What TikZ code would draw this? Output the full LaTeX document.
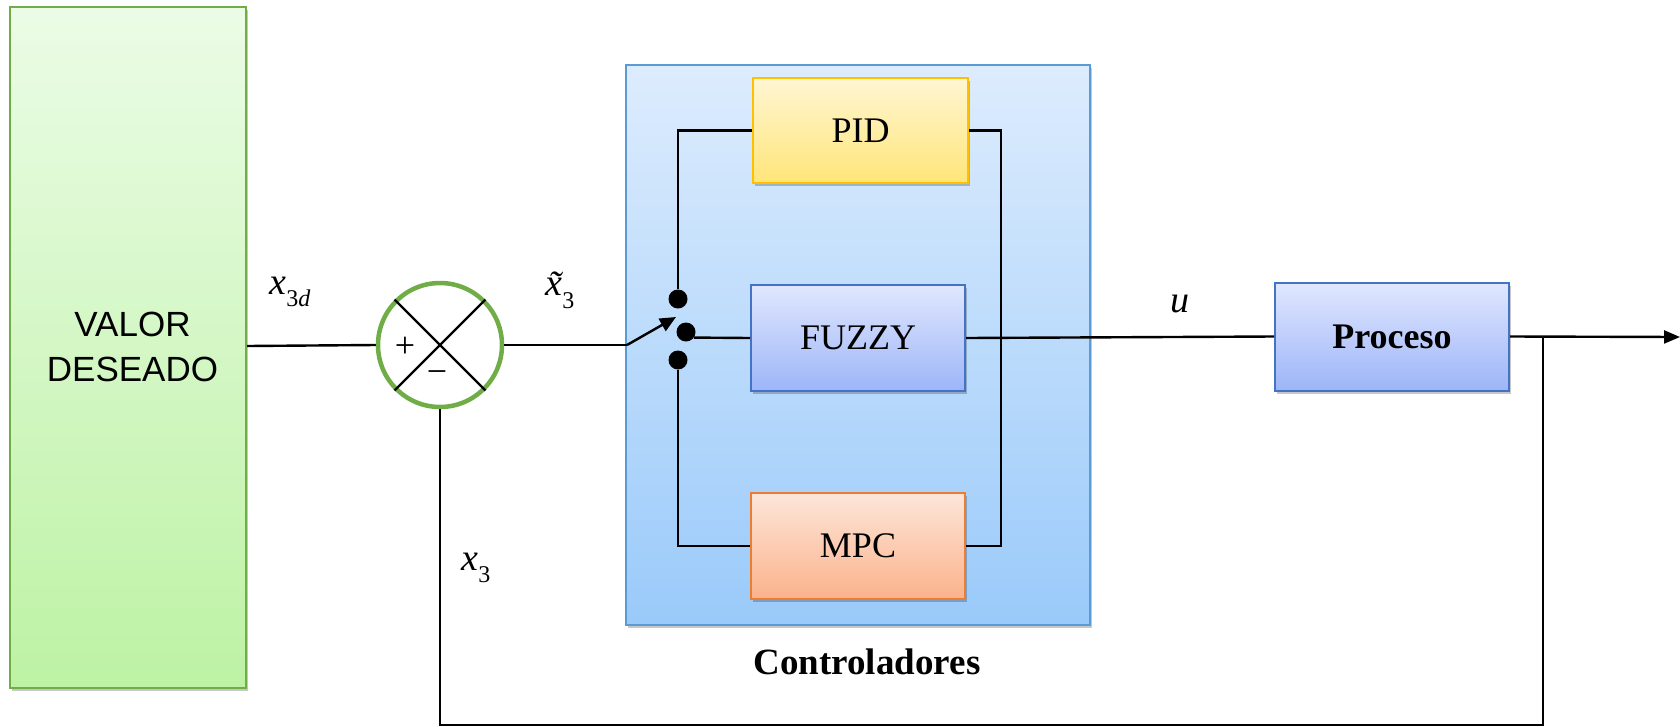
\documentclass[tikz,border=0pt]{standalone}
\usepackage{fontspec}
\setmainfont{Liberation Serif}
\newfontfamily\arialfont{Liberation Sans}
\usetikzlibrary{shadows,arrows.meta}

\definecolor{setgreen}{HTML}{70AD47}
\definecolor{setgreenTop}{HTML}{EBFCE6}
\definecolor{setgreenBot}{HTML}{BDF2A4}
\definecolor{ctrlblue}{HTML}{5B9BD5}
\definecolor{ctrlTop}{HTML}{DDECFD}
\definecolor{ctrlBot}{HTML}{9ACAFA}
\definecolor{procblue}{HTML}{4472C4}
\definecolor{procTop}{HTML}{E0E7FE}
\definecolor{procBot}{HTML}{9DB5F8}
\definecolor{pidedge}{HTML}{FFC000}
\definecolor{pidTop}{HTML}{FFF6D3}
\definecolor{pidBot}{HTML}{FFE579}
\definecolor{mpcedge}{HTML}{ED7D31}
\definecolor{mpcTop}{HTML}{FDE6DA}
\definecolor{mpcBot}{HTML}{FBB28B}

\begin{document}
\begin{tikzpicture}[x=1pt,y=-1pt,
  shade/.style={drop shadow={shadow xshift=1.5pt,shadow yshift=-3pt,fill=black,opacity=0.22}},
  blockbox/.style={draw,line width=2pt,shade,inner sep=0pt,font=\fontsize{36}{40}\selectfont},
  wire/.style={line width=2.4pt,black},
  contact/.style={circle,fill=black,inner sep=0pt,minimum size=19pt},
  siglabel/.style={font=\fontsize{38}{40}\selectfont\itshape,inner sep=0pt}]
\useasboundingbox (0,0) rectangle (1680,726);

% setpoint block
\node[blockbox,draw=setgreen,top color=setgreenTop,bottom color=setgreenBot,
      minimum width=236pt,minimum height=681pt,align=center,
      font=\fontsize{35}{45}\selectfont\arialfont] (ref) at (128,347) {\hspace*{9pt}VALOR\\\hspace*{9pt}DESEADO};

% controller group
\node[draw=ctrlblue,line width=2pt,top color=ctrlTop,bottom color=ctrlBot,shade,
      minimum width=464pt,minimum height=560pt,inner sep=0pt] (ctrl) at (858,345) {};
\node[font=\fontsize{37}{40}\selectfont\bfseries] (ctrllabel) at (867,662) {Controladores};

\node[blockbox,draw=pidedge,top color=pidTop,bottom color=pidBot,
      minimum width=215pt,minimum height=105pt] (pid) at (860.5,130.5) {PID};
\node[blockbox,draw=procblue,top color=procTop,bottom color=procBot,
      minimum width=214pt,minimum height=106pt] (fuzzy) at (858,338) {FUZZY};
\node[blockbox,draw=mpcedge,top color=mpcTop,bottom color=mpcBot,
      minimum width=214pt,minimum height=106pt] (mpc) at (858,546) {MPC};

% plant
\node[blockbox,draw=procblue,top color=procTop,bottom color=procBot,
      minimum width=234pt,minimum height=108pt,font=\fontsize{36}{40}\selectfont\bfseries] (plant) at (1392,336.5) {Proceso};

% summing junction
\node[circle,draw=setgreen,line width=4.5pt,minimum size=124pt,inner sep=0pt,fill=white] (sum) at (440,345) {};
\draw[wire] (sum.45) -- (sum.225);
\draw[wire] (sum.135) -- (sum.315);
\node[font=\fontsize{36}{38}\selectfont,inner sep=0pt] (plus) at (405,347) {+};
\node[font=\fontsize{36}{38}\selectfont,inner sep=0pt] (minus) at (437,377) {\char"2212};

% selector contacts
\node[contact] (ca) at (678,299) {};
\node[contact] (cb) at (686,332) {};
\node[contact] (cc) at (678,360) {};

\coordinate (swin) at (627,345);
\coordinate (swtip) at (676,317);
\coordinate (tap) at (1543,337);
\coordinate (outend) at (1680,337);

% signal wires
\draw[wire] (ref.east |- 0,346) -- (sum.west);
\draw[wire] (sum.east) -- (swin);
\draw[wire,-{Triangle[length=16pt,width=14pt]}] (swin) -- (swtip);
\draw[wire] (ca) |- (pid.west);
\draw[wire] (pid.east) -| (1001,546) -- (mpc.east);
\draw[wire] (mpc.west) -| (cc);
\draw[wire] (cb.-35) -- (fuzzy.west);
\draw[wire] (fuzzy.east) -- (plant.west);
\draw[wire,-{Triangle[length=16pt,width=13pt]}] (plant.east) -- (outend);
\draw[wire] (tap) |- (440,725) -- (sum.south);

% signal labels
\node[siglabel] (lref) at (290,292) {x\raisebox{-0.32em}{\fontsize{24}{24}\selectfont\upshape 3\itshape d}};
\node[siglabel] (lerr) at (560,290) {\~{x}\raisebox{-0.32em}{\fontsize{24}{24}\selectfont\upshape 3}};
\node[siglabel] (lu) at (1180,304) {u};
\node[siglabel] (lfb) at (476,568) {x\raisebox{-0.32em}{\fontsize{24}{24}\selectfont\upshape 3}};
\end{tikzpicture}
\end{document}
